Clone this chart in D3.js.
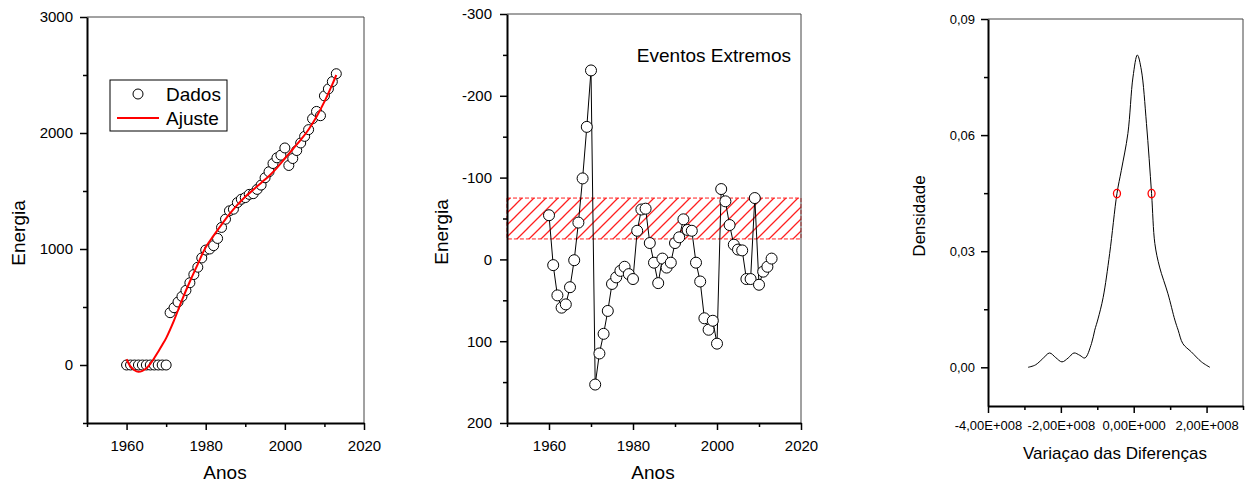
<!DOCTYPE html>
<html>
<head>
<meta charset="utf-8">
<script src="https://cdn.jsdelivr.net/npm/d3@7"></script>
<style>
  body { margin: 0; background: #fff; }
  svg { font-family: "Liberation Sans", Arial, sans-serif; }
</style>
</head>
<body>
<div id="chart"></div>
<script>
// ---- painel 1: energia acumulada + ajuste
const anos = [1960, 1961, 1962, 1963, 1964, 1965, 1966, 1967, 1968, 1969, 1970,
  1971, 1972, 1973, 1974, 1975, 1976, 1977, 1978, 1979, 1980, 1981, 1982, 1983,
  1984, 1985, 1986, 1987, 1988, 1989, 1990, 1991, 1992, 1993, 1994, 1995, 1996,
  1997, 1998, 1999, 2000, 2001, 2002, 2003, 2004, 2005, 2006, 2007, 2008, 2009,
  2010, 2011, 2012, 2013];
const dados = [0, 0, 0, 0, 0, 0, 0, 0, 0, 0, 0,
  451, 494, 543, 591, 643, 709, 780, 843, 923, 991, 1000, 1029, 1091,
  1186, 1257, 1329, 1343, 1400, 1429, 1443, 1471, 1477, 1514, 1551, 1614, 1666,
  1737, 1786, 1809, 1871, 1720, 1780, 1849, 1914, 1971, 2029, 2123, 2186, 2149,
  2320, 2380, 2443, 2511];
const ajusteAnos = [1960, 1961, 1962, 1963, 1964, 1965, 1966, 1967, 1968, 1969, 1970,
  1972, 1974, 1976, 1978, 1980, 1982, 1984, 1986, 1988, 1990, 1992, 1994, 1996,
  1998, 2000, 2002, 2004, 2006, 2008, 2010, 2012, 2013];
const ajuste = [50, -12, -45, -58, -50, -28, 10, 60, 115, 172, 232,
  385, 560, 720, 870, 1015, 1115, 1210, 1300, 1380, 1450, 1510, 1570, 1630,
  1700, 1780, 1860, 1940, 2030, 2140, 2270, 2420, 2500];

// ---- painel 2: eventos extremos
const extremos = [-54, 7, 44, 59, 55, 34, 1, -45, -99, -162, -231,
  153, 115, 91, 63, 30, 22, 14, 9, 18, 24, -35, -61, -62,
  -20, 4, 29, -1, 10, 4, -20, -27, -49, -36, -35, 4, 27,
  72, 86, 75, 103, -86, -71, -42, -18, -12, -11, 24, 24, -75,
  31, 15, 9, -1];
const faixa = [-75, -25];

// ---- painel 3: densidade
const difX = [-2.90, -2.70, -2.50, -2.31, -2.14, -1.97, -1.80, -1.64, -1.48, -1.34,
  -1.16, -1.07, -0.98, -0.84, -0.66, -0.46, -0.34, -0.16, -0.02, 0.10, 0.21, 0.35,
  0.49, 0.58, 0.71, 0.94, 1.13, 1.22, 1.35, 1.58, 1.86, 2.09];
const densidade = [0, 0.0006, 0.0022, 0.0037, 0.0025, 0.0014, 0.0024, 0.0037, 0.0031, 0.0024,
  0.0061, 0.0096, 0.0125, 0.0180, 0.0294, 0.0449, 0.0509, 0.0604, 0.0750, 0.0807, 0.0768, 0.0630,
  0.0449, 0.0320, 0.0259, 0.0190, 0.0122, 0.0096, 0.0061, 0.0040, 0.0014, 0];
const marcasX = [-0.46, 0.49];
const marcasY = [0.0449, 0.0449];

const width = 1245;
const height = 485;

const svg = d3.select("#chart")
              .append("svg")
              .attr("width", width)
              .attr("height", height);

const ptBR = d3.formatLocale({decimal: ",", thousands: ".", grouping: [3], currency: ["", ""], minus: "-"});
const fmtInt = ptBR.format("d");
const fmtDens = ptBR.format(".2f");
const fmtSci = (v) => {
  if (v === 0) return "0,00E+000";
  const e = Math.floor(Math.log10(Math.abs(v)));
  const m = v / Math.pow(10, e);
  return m.toFixed(2).replace(".", ",") + "E+" + String(e).padStart(3, "0");
};

// desenha eixos com ticks maiores/menores e moldura
const drawFrame = (x, y, opts) => {
  const g = svg.append("g");
  const [x0, x1] = x.range();
  const [yb, yt] = [Math.max(...y.range()), Math.min(...y.range())];

  // moldura fina (topo e direita)
  g.append("path")
   .attr("d", `M${x0},${yt}H${x1}V${yb}`)
   .attr("fill", "none")
   .attr("stroke", "#444")
   .attr("stroke-width", 1);

  g.append("g")
    .attr("transform", `translate(0,${yb})`)
    .call(d3.axisBottom(x).tickValues(opts.xMajor).tickSize(7).tickSizeOuter(0)
      .tickPadding(opts.xPad).tickFormat(opts.xFmt));
  g.append("g")
    .attr("transform", `translate(0,${yb})`)
    .call(d3.axisBottom(x).tickValues(opts.xMinor).tickSize(4).tickSizeOuter(0).tickFormat(""))
    .select(".domain").remove();

  g.append("g")
    .attr("transform", `translate(${x0},0)`)
    .call(d3.axisLeft(y).tickValues(opts.yMajor).tickSize(7).tickSizeOuter(0)
      .tickPadding(opts.yPad).tickFormat(opts.yFmt));
  g.append("g")
    .attr("transform", `translate(${x0},0)`)
    .call(d3.axisLeft(y).tickValues(opts.yMinor).tickSize(4).tickSizeOuter(0).tickFormat(""))
    .select(".domain").remove();

  g.selectAll(".domain").attr("stroke", "#000").attr("stroke-width", 2);
  g.selectAll(".tick line").attr("stroke", "#000").attr("stroke-width", 1.5);
  g.selectAll(".tick text")
   .attr("fill", "#000")
   .attr("font-family", "Liberation Sans, Arial, sans-serif")
   .attr("font-size", opts.tickFont);

  // títulos
  g.append("text")
   .attr("x", opts.xTitle[0]).attr("y", opts.xTitle[1])
   .attr("text-anchor", "middle")
   .attr("font-size", opts.titleFont)
   .text(opts.xLabel);
  g.append("text")
   .attr("transform", `translate(${opts.yTitle[0]},${opts.yTitle[1]}) rotate(-90)`)
   .attr("text-anchor", "middle")
   .attr("dy", "0.35em")
   .attr("font-size", opts.titleFont)
   .text(opts.yLabel);
};

// ================= painel 1 =================
const x1 = d3.scaleLinear().domain([1950, 2020]).range([87, 364]);
const y1 = d3.scaleLinear().domain([-500, 3000]).range([423, 17]);

drawFrame(x1, y1, {
  xMajor: [1960, 1980, 2000, 2020], xMinor: [1950, 1970, 1990, 2010],
  yMajor: [0, 1000, 2000, 3000], yMinor: [-500, 500, 1500, 2500],
  xPad: 10, yPad: 7, xFmt: fmtInt, yFmt: fmtInt,
  tickFont: 15, titleFont: 19,
  xLabel: "Anos", xTitle: [225, 479], yLabel: "Energia", yTitle: [18, 233]
});

svg.append("g")
   .selectAll("circle")
   .data(anos)
   .enter()
   .append("circle")
   .attr("cx", (d) => x1(d))
   .attr("cy", (d, i) => y1(dados[i]))
   .attr("r", 5)
   .attr("fill", "#fff")
   .attr("stroke", "#000")
   .attr("stroke-width", 1);

svg.append("path")
   .datum(ajusteAnos)
   .attr("d", d3.line()
     .x((d) => x1(d))
     .y((d, i) => y1(ajuste[i]))
     .curve(d3.curveCatmullRom))
   .attr("fill", "none")
   .attr("stroke", "#ff0000")
   .attr("stroke-width", 2);

// legenda
const leg = svg.append("g");
leg.append("rect")
   .attr("x", 110).attr("y", 80).attr("width", 117).attr("height", 51)
   .attr("fill", "#fff").attr("stroke", "#000").attr("stroke-width", 1);
leg.append("circle")
   .attr("cx", 138).attr("cy", 94).attr("r", 5)
   .attr("fill", "#fff").attr("stroke", "#000");
leg.append("line")
   .attr("x1", 117).attr("x2", 159).attr("y1", 118).attr("y2", 118)
   .attr("stroke", "#ff0000").attr("stroke-width", 2);
leg.append("text").attr("x", 166).attr("y", 101).attr("font-size", 19).text("Dados");
leg.append("text").attr("x", 166).attr("y", 125).attr("font-size", 19).text("Ajuste");

// ================= painel 2 =================
const x2 = d3.scaleLinear().domain([1950, 2020]).range([507, 801]);
const y2 = d3.scaleLinear().domain([-300, 200]).range([14, 423]);

const defs = svg.append("defs");
defs.append("pattern")
    .attr("id", "hatch")
    .attr("patternUnits", "userSpaceOnUse")
    .attr("width", 12)
    .attr("height", 12)
    .append("path")
    .attr("d", "M0,12L12,0M-3,3L3,-3M9,15L15,9")
    .attr("stroke", "#ff2020")
    .attr("stroke-width", 1.3);

svg.append("rect")
   .attr("x", x2(1950))
   .attr("y", y2(faixa[0]))
   .attr("width", x2(2020) - x2(1950))
   .attr("height", y2(faixa[1]) - y2(faixa[0]))
   .attr("fill", "url(#hatch)")
   .attr("stroke", "#ff2020")
   .attr("stroke-width", 1)
   .attr("stroke-dasharray", "4,2");

drawFrame(x2, y2, {
  xMajor: [1960, 1980, 2000, 2020], xMinor: [1950, 1970, 1990, 2010],
  yMajor: [-300, -200, -100, 0, 100, 200], yMinor: [-250, -150, -50, 50, 150],
  xPad: 10, yPad: 8, xFmt: fmtInt, yFmt: fmtInt,
  tickFont: 15, titleFont: 19,
  xLabel: "Anos", xTitle: [653, 479], yLabel: "Energia", yTitle: [441, 232]
});

svg.append("path")
   .datum(anos)
   .attr("d", d3.line()
     .x((d) => x2(d))
     .y((d, i) => y2(extremos[i])))
   .attr("fill", "none")
   .attr("stroke", "#000")
   .attr("stroke-width", 1);

svg.append("g")
   .selectAll("circle")
   .data(anos)
   .enter()
   .append("circle")
   .attr("cx", (d) => x2(d))
   .attr("cy", (d, i) => y2(extremos[i]))
   .attr("r", 5.5)
   .attr("fill", "#fff")
   .attr("stroke", "#000")
   .attr("stroke-width", 1);

svg.append("text")
   .attr("x", 791).attr("y", 62)
   .attr("text-anchor", "end")
   .attr("font-size", 19)
   .text("Eventos Extremos");

// ================= painel 3 =================
const x3 = d3.scaleLinear().domain([-4e8, 3e8]).range([988, 1243]);
const y3 = d3.scaleLinear().domain([-0.01, 0.09]).range([406, 19]);

drawFrame(x3, y3, {
  xMajor: [-4e8, -2e8, 0, 2e8], xMinor: [-3e8, -1e8, 1e8, 3e8],
  yMajor: [0, 0.03, 0.06, 0.09], yMinor: [0.015, 0.045, 0.075],
  xPad: 8, yPad: 6, xFmt: fmtSci, yFmt: fmtDens,
  tickFont: 13, titleFont: 17,
  xLabel: "Variaçao das Diferenças", xTitle: [1115, 459], yLabel: "Densidade", yTitle: [919, 216]
});

svg.append("path")
   .datum(difX)
   .attr("d", d3.line()
     .x((d) => x3(d * 1e8))
     .y((d, i) => y3(densidade[i]))
     .curve(d3.curveCatmullRom))
   .attr("fill", "none")
   .attr("stroke", "#000")
   .attr("stroke-width", 1);

svg.append("g")
   .selectAll("ellipse")
   .data(marcasX)
   .enter()
   .append("ellipse")
   .attr("cx", (d) => x3(d * 1e8))
   .attr("cy", (d, i) => y3(marcasY[i]))
   .attr("rx", 3.5)
   .attr("ry", 4.2)
   .attr("fill", "none")
   .attr("stroke", "#ff0000")
   .attr("stroke-width", 1.3);
</script>
</body>
</html>
